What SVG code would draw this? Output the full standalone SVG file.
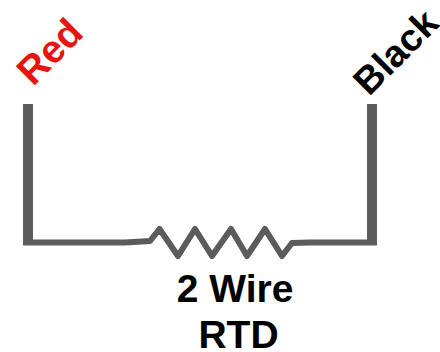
<svg xmlns="http://www.w3.org/2000/svg" width="440" height="352" viewBox="0 0 440 352">
<defs><filter id="soft" x="-5%" y="-5%" width="110%" height="110%"><feGaussianBlur stdDeviation="0.6"/></filter></defs>
<style>
.w{fill:none;stroke:#5c5c5c;stroke-linejoin:round;stroke-linecap:butt}
text{font-family:"Liberation Sans",Arial,sans-serif;font-weight:700;font-size:39px}
#label-black text{font-size:38px}
</style>
<rect width="440" height="352" fill="#fff"/>
<g id="connectors" filter="url(#soft)">
<path class="w" stroke-width="10" d="M28 104V240"/>
<path class="w" stroke-width="10" d="M372 104V240"/>
<path class="w" stroke-width="6" d="M23 242.500H125L150 241L159.500 229L178 256L195 229L212 256L231 229L247 256L265 229L282 256L292 243L310 242.500H377"/>
</g>
<g id="label-red"><text transform="translate(33 87) rotate(-45)" fill="#e8140f">Red</text></g>
<g id="label-black"><text transform="translate(369 97) rotate(-45)" fill="#000">Black</text></g>
<g id="label-rtd" text-anchor="middle"><text x="235" y="302">2 Wire</text><text x="238.500" y="348">RTD</text></g>
</svg>
